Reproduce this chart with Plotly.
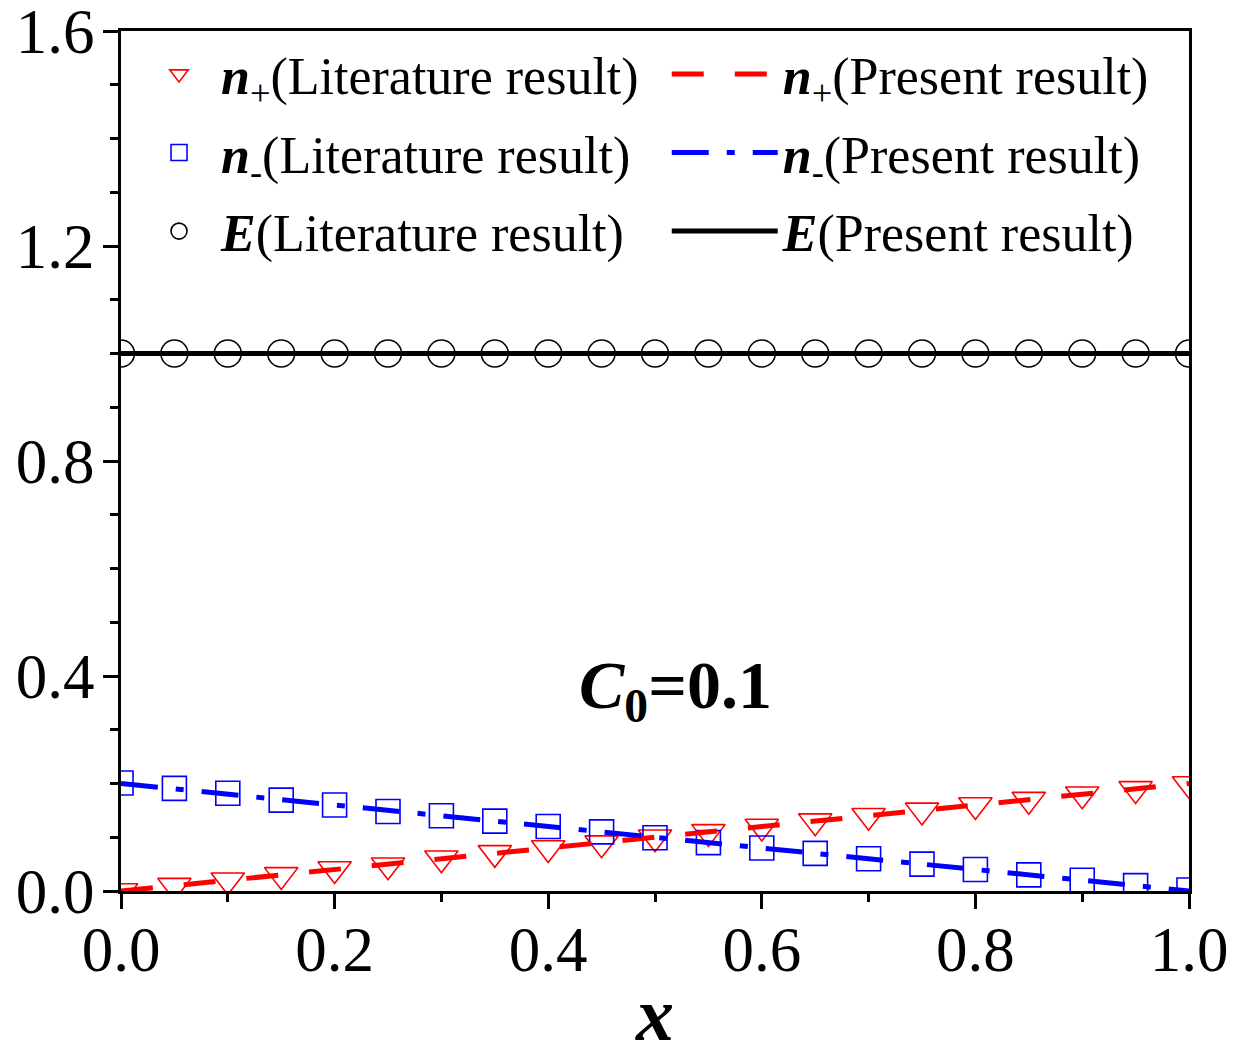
import plotly.graph_objects as go

x_vals = [0.00, 0.05, 0.10, 0.15, 0.20, 0.25, 0.30, 0.35, 0.40, 0.45, 0.50,
          0.55, 0.60, 0.65, 0.70, 0.75, 0.80, 0.85, 0.90, 0.95, 1.00]

n_plus_lit = [0.000, 0.010, 0.020, 0.030, 0.041, 0.048, 0.061, 0.071, 0.080, 0.089, 0.100,
              0.110, 0.120, 0.130, 0.140, 0.150, 0.160, 0.170, 0.180, 0.190, 0.199]
n_minus_lit = [0.201, 0.191, 0.182, 0.169, 0.160, 0.148, 0.140, 0.130, 0.120, 0.110, 0.099,
               0.090, 0.080, 0.070, 0.060, 0.050, 0.040, 0.030, 0.020, 0.010, 0.002]
E_lit = [1.0] * 21

n_plus_pre = [0.000, 0.010, 0.020, 0.030, 0.040, 0.050, 0.060, 0.070, 0.080, 0.090, 0.100,
              0.110, 0.120, 0.130, 0.140, 0.150, 0.160, 0.170, 0.180, 0.190, 0.200]
n_minus_pre = [0.200, 0.190, 0.180, 0.170, 0.160, 0.150, 0.140, 0.130, 0.120, 0.110, 0.100,
               0.090, 0.080, 0.070, 0.060, 0.050, 0.040, 0.030, 0.020, 0.010, 0.000]
E_pre = [1.0] * 21

FONT = "Liberation Serif"

fig = go.Figure()

fig.add_trace(go.Scatter(x=x_vals, y=n_plus_lit, mode="markers", legend="legend", legendgroup="a",
                         name="<b><i>n</i></b><sub>+</sub>(Literature result)",
                         marker=dict(symbol="triangle-down-open", size=29, color="red",
                                     line=dict(color="red", width=1.6))))
fig.add_trace(go.Scatter(x=x_vals, y=n_minus_lit, mode="markers", legend="legend", legendgroup="b",
                         name="<b><i>n</i></b><sub>-</sub>(Literature result)",
                         marker=dict(symbol="square-open", size=24, color="blue",
                                     line=dict(color="blue", width=1.6))))
fig.add_trace(go.Scatter(x=x_vals, y=E_lit, mode="markers", legend="legend", legendgroup="c",
                         name="<b><i>E</i></b>(Literature result)",
                         marker=dict(symbol="circle-open", size=27, color="black",
                                     line=dict(color="black", width=1.6))))

fig.add_trace(go.Scatter(x=x_vals, y=n_plus_pre, mode="lines", legend="legend2", legendgroup="d",
                         name="<b><i>n</i></b><sub>+</sub>(Present result)",
                         line=dict(color="red", width=5, dash="32px,31px")))
fig.add_trace(go.Scatter(x=x_vals, y=n_minus_pre, mode="lines", legend="legend2", legendgroup="e",
                         name="<b><i>n</i></b><sub>-</sub>(Present result)",
                         line=dict(color="blue", width=5, dash="37px,18px,8px,18px")))
fig.add_trace(go.Scatter(x=x_vals, y=E_pre, mode="lines", legend="legend2", legendgroup="f",
                         name="<b><i>E</i></b>(Present result)",
                         line=dict(color="black", width=5)))

axis_common = dict(showgrid=False, zeroline=False, showline=True, linecolor="black",
                   linewidth=3, mirror=True, ticks="outside", tickwidth=3, ticklen=15,
                   tickcolor="black", automargin=False, ticklabeloverflow="allow",
                   tickfont=dict(family=FONT, size=63, color="black"))

fig.update_layout(
    width=1249, height=1056,
    margin=dict(l=121, r=60, t=31, b=165),
    paper_bgcolor="white", plot_bgcolor="white",
    font=dict(family=FONT, color="black"),
    xaxis=dict(range=[0, 1], tick0=0, dtick=0.2, tickformat=".1f",
               minor=dict(dtick=0.1, ticklen=8, tickwidth=3, ticks="outside", tickcolor="black"),
               ticklabelstandoff=-14,
               title=dict(text="<b><i>x</i></b>", font=dict(family=FONT, size=76), standoff=4),
               **axis_common),
    yaxis=dict(range=[0, 1.6], tick0=0, dtick=0.4, tickformat=".1f",
               minor=dict(dtick=0.1, ticklen=8, tickwidth=3, ticks="outside", tickcolor="black"),
               ticklabelstandoff=-4,
               **axis_common),
    legend=dict(x=0.015, y=0.997, xanchor="left", yanchor="top", bgcolor="rgba(0,0,0,0)",
                font=dict(family=FONT, size=52, color="black"), tracegroupgap=8,
                itemwidth=74),
    legend2=dict(x=0.511, y=0.997, xanchor="left", yanchor="top", bgcolor="rgba(0,0,0,0)",
                 font=dict(family=FONT, size=52, color="black"), tracegroupgap=8,
                 itemwidth=106),
    annotations=[dict(x=0.519, y=0.182, xref="paper", yref="paper", showarrow=False,
                      text="<b><i>C</i><sub>0</sub>=0.1</b>",
                      font=dict(family=FONT, size=68, color="black"))],
)

fig.write_html("out.html")
